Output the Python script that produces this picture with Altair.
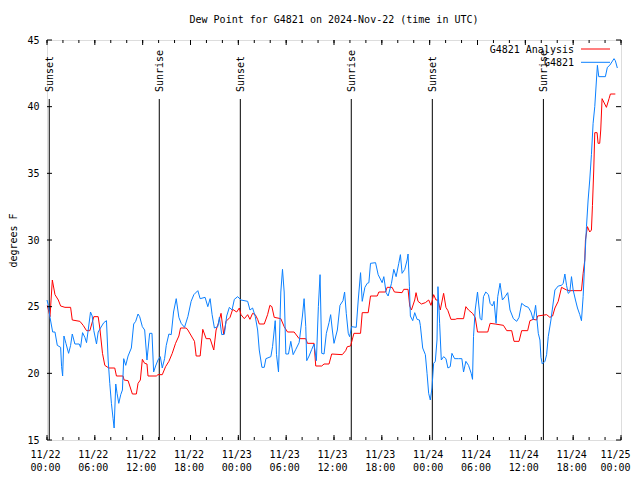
import altair as alt
import pandas as pd

START = pd.Timestamp("2024-11-22T00:00:00")
FONT = "DejaVu Sans Mono"

# G4821 Analysis (red): hours since 2024-11-22 00:00 UTC, dew point degF
red_hours = [0.04, 0.375, 0.67, 1.0, 1.42, 1.71, 2.25, 2.96, 3.17, 4.125, 4.54, 4.96, 5.375, 5.875,
             6.42, 6.625, 6.96, 7.25, 7.75, 8.5, 8.71, 9.54, 9.67, 10.17, 10.71, 11.21, 11.42, 11.71,
             11.96, 12.25, 12.54, 12.67, 13.71, 13.92, 14.46, 14.875, 15.29, 15.71, 16.125, 16.54,
             16.75, 17.46, 17.67, 18.5, 18.71, 19.21, 19.54, 19.96, 20.46, 20.92, 21.21, 21.5, 21.83,
             22.17, 22.46, 22.96, 23.29, 23.79, 24.125, 24.33, 24.75, 25.17, 25.46, 25.79, 26.125,
             26.42, 26.625, 27.25, 27.67, 27.96, 28.21, 28.5, 29.33, 29.75, 30.17, 31.0, 31.625,
             32.46, 32.67, 33.5, 33.71, 34.46, 34.75, 35.375, 35.71, 37.04, 37.46, 37.67, 38.08,
             38.5, 39.33, 39.54, 40.29, 40.58, 41.42, 41.625, 42.46, 42.67, 43.29, 43.58, 44.54,
             44.75, 45.29, 45.5, 45.71, 46.125, 46.29, 46.54, 46.96, 47.46, 47.875, 48.17, 48.5,
             48.79, 49.04, 49.33, 49.75, 50.04, 50.29, 50.67, 51.21, 51.42, 52.25, 52.54, 52.875,
             53.375, 53.71, 54.0, 55.29, 55.58, 56.21, 57.25, 57.67, 58.29, 58.58, 59.21, 59.54,
             60.29, 60.58, 61.0, 61.42, 61.54, 62.67, 63.08, 63.42, 63.71, 64.125, 64.54, 65.17,
             65.58, 67.04, 67.25, 67.46, 67.54, 67.79, 68.08, 68.29, 68.42, 68.58, 68.71, 69.0,
             69.125, 69.33, 69.46, 69.625, 70.17, 70.5, 70.67, 71.29]
red_values = [25.1, 24.25, 27.0, 25.9, 25.5, 25.05, 24.95, 24.95, 24.0, 23.9, 23.6, 23.2, 23.2, 24.25,
              24.25, 23.4, 21.5, 20.6, 20.4, 20.4, 19.8, 19.8, 19.5, 19.45, 18.45, 18.45, 19.25, 19.5,
              21.05, 20.75, 20.7, 19.8, 19.8, 19.9, 19.9, 20.5, 20.9, 21.5, 22.25, 22.8,
              23.4, 23.4, 23.25, 22.4, 21.3, 21.3, 23.3, 22.6, 22.6, 21.75, 23.25, 23.75, 24.5,
              22.9, 23.9, 24.2, 24.8, 24.6, 24.9, 24.4, 24.1, 24.4, 24.05, 24.5, 24.4,
              24.05, 23.7, 23.7, 24.4, 25.1, 25.0, 24.2, 24.1, 23.5, 23.1, 23.1, 22.6,
              22.6, 22.25, 22.25, 20.55, 20.55, 20.7, 20.7, 21.45, 21.4, 21.7, 22.0, 22.05,
              23.0, 23.0, 24.55, 24.55, 25.8, 25.8, 26.1, 26.1, 26.45, 26.45, 26.1, 26.05,
              26.3, 26.3, 25.05, 24.75, 25.5, 26.05, 25.4, 25.2, 25.3, 25.5, 25.1, 25.9,
              25.5, 25.5, 24.75, 26.0, 24.95, 24.7, 24.05, 24.05, 24.1, 24.1, 25.0, 24.75,
              24.5, 24.2, 23.1, 23.1, 23.75, 23.7, 23.6, 23.2, 23.2, 22.4, 22.4, 23.2,
              23.2, 23.95, 24.05, 24.0, 24.3, 24.4, 24.2, 24.3, 24.9, 25.4, 26.45, 26.25,
              26.2, 26.2, 27.5, 28.5, 30.0, 31.0, 30.6, 30.75, 32.6, 35.25, 38.05, 38.05,
              37.25, 37.25, 38.25, 40.6, 39.95, 40.6, 40.95, 40.95]

# G4821 observations (blue)
blue_hours = [0.0, 0.17, 0.375, 0.71, 1.0, 1.29, 1.71, 1.83, 1.96, 2.125, 2.375, 2.71, 2.96, 3.17,
              3.5, 4.04, 4.21, 4.46, 4.75, 4.96, 5.17, 5.46, 5.67, 5.875, 6.21, 6.42, 6.71, 7.125,
              7.46, 7.67, 7.875, 8.08, 8.29, 8.42, 8.625, 8.79, 9.0, 9.25, 9.46, 9.625, 9.875,
              10.17, 10.58, 10.875, 11.125, 11.42, 11.625, 11.96, 12.25, 12.54, 12.875, 13.17,
              13.375, 13.625, 13.92, 14.21, 14.46, 14.75, 14.96, 15.29, 15.58, 15.875, 16.21,
              16.54, 16.83, 17.25, 17.67, 18.08, 18.42, 18.92, 19.21, 19.83, 20.17, 20.46, 20.71,
              21.0, 21.42, 21.625, 21.92, 22.25, 22.54, 22.875, 23.21, 23.5, 23.92, 24.33, 25.17,
              25.46, 25.79, 26.125, 26.42, 26.625, 26.96, 27.25, 27.46, 28.08, 28.29, 28.625,
              28.79, 29.04, 29.33, 29.54, 29.75, 29.96, 30.29, 30.58, 30.875, 31.21, 31.625,
              32.04, 32.25, 32.46, 32.58, 32.875, 33.21, 33.5, 33.79, 34.04, 34.25, 34.46, 34.75,
              35.04, 35.375, 35.58, 35.79, 36.0, 36.42, 36.75, 37.125, 37.33, 37.54, 37.79, 37.96,
              38.21, 38.79, 39.04, 39.33, 39.54, 39.875, 40.17, 40.375, 40.58, 41.21, 41.54,
              42.04, 42.25, 42.54, 42.79, 43.21, 43.5, 43.79, 44.125, 44.33, 44.54, 44.875,
              45.17, 45.29, 45.46, 45.58, 45.875, 46.125, 46.42, 46.71, 46.83, 47.125, 47.46,
              47.67, 47.875, 48.08, 48.29, 48.5, 48.71, 48.92, 49.04, 49.25, 49.46, 49.75, 50.04,
              50.29, 50.58, 50.79, 51.125, 51.625, 52.04, 52.25, 52.54, 52.875, 53.21, 53.375,
              53.5, 53.71, 54.0, 54.33, 54.54, 54.75, 55.04, 55.375, 55.58, 55.875, 56.08, 56.33,
              56.54, 56.83, 57.125, 57.46, 57.79, 58.08, 58.5, 58.92, 59.21, 59.54, 59.96, 60.375,
              60.71, 61.0, 61.29, 61.625, 61.83, 61.96, 62.125, 62.46, 62.67, 62.875, 63.21,
              63.375, 63.71, 64.125, 64.54, 64.75, 64.96, 65.17, 65.375, 65.58, 65.79, 66.0,
              66.29, 66.54, 66.83, 67.04, 67.25, 67.46, 67.67, 67.875, 68.08, 68.29, 68.5, 68.71,
              68.92, 69.04, 69.21, 70.04, 70.29, 70.58, 71.125, 71.29, 71.54]
blue_values = [25.5, 25.1, 24.2, 23.1, 23.1, 22.1, 21.95, 20.5, 19.8, 22.8, 22.25, 21.5, 22.1, 22.95,
               22.2, 22.2, 21.95, 23.05, 22.7, 22.3, 23.25, 24.6, 24.3, 23.2, 22.2, 23.1, 23.4, 23.8,
               23.95, 21.0, 19.25, 17.75, 16.6, 15.9, 19.2, 18.5, 17.75, 18.4, 18.75, 21.1, 20.6,
               21.3, 21.9, 23.7, 23.9, 24.45, 24.25, 23.5, 23.25, 21.0, 23.0, 23.0,
               20.1, 20.55, 21.0, 21.25, 20.4, 21.1, 22.1, 22.95, 22.9, 24.6, 25.6,
               24.2, 23.75, 23.45, 24.25, 25.4, 25.9, 26.2, 25.6, 25.7, 25.0, 25.6, 24.4,
               23.4, 23.5, 24.2, 22.9, 22.95, 24.3, 24.95, 24.75, 25.55, 25.75, 25.5, 25.4,
               24.75, 24.9, 24.25, 23.25, 21.75, 20.45, 20.45, 21.1, 21.25, 22.0, 23.95,
               21.4, 20.1, 26.1, 27.8, 26.1, 21.45, 21.45, 22.4, 21.4, 21.8, 22.3,
               24.3, 25.6, 23.5, 20.95, 21.3, 21.8, 22.2, 20.95, 25.0, 27.4, 21.5, 21.45,
               23.0, 23.8, 24.4, 23.25, 22.25, 23.25, 25.1, 25.45, 26.1, 24.5, 23.0, 22.75,
               23.5, 23.45, 25.5, 27.55, 25.4, 26.45, 26.75, 26.8, 28.25, 28.3, 27.4,
               26.8, 27.25, 26.05, 25.8, 26.75, 27.8, 27.25, 28.25, 28.9, 27.5, 27.8,
               28.5, 28.95, 26.5, 24.3, 23.95, 24.55, 24.05, 24.0, 23.6, 21.9, 21.4,
               20.0, 18.5, 18.0, 18.9, 20.75, 20.9, 22.5, 26.5, 23.75, 21.0, 21.25, 21.1,
               20.4, 20.5, 21.5, 21.1, 21.1, 21.1, 20.1, 20.9, 20.6, 20.0, 19.55,
               22.75, 24.75, 26.1, 24.1, 24.0, 25.75, 26.1, 25.9, 25.25, 25.05, 25.4, 23.75,
               25.75, 26.75, 25.5, 25.75, 26.05, 24.75, 24.1, 23.9, 24.2, 25.25, 25.05, 24.95,
               24.6, 24.0, 25.1, 23.0, 22.5, 21.2, 20.7, 20.9, 21.4, 22.75, 24.0,
               24.75, 26.25, 26.55, 26.6, 26.75, 27.45, 26.6, 26.0, 26.1, 27.25, 26.25,
               25.5, 24.9, 24.4, 23.95, 25.75, 28.5, 31.0, 33.0, 34.5, 36.4, 38.75, 40.0,
               42.0, 43.1, 42.25, 42.25, 42.95, 43.1, 43.6, 43.45, 42.9]

sun_times = ["2024-11-22T00:17:00Z", "2024-11-22T14:05:00Z", "2024-11-23T00:15:00Z",
             "2024-11-23T14:10:00Z", "2024-11-24T00:20:00Z", "2024-11-24T14:16:00Z"]
sun_labels = ["Sunset", "Sunrise", "Sunset", "Sunrise", "Sunset", "Sunrise"]

y_tick_values = [15, 20, 25, 30, 35, 40, 45]
minor_tick_hours = list(range(0, 73, 2))
major_tick_hours = list(range(0, 73, 6))

legend_names = ["G4821 Analysis", "G4821"]
legend_colors = ["#ff0000", "#0a80ff"]


def iso(hours):
    return [(START + pd.Timedelta(hours=h)).strftime("%Y-%m-%dT%H:%M:%SZ") for h in hours]


def dt(h):
    return alt.DateTime(year=2024, month=11, date=22 + h // 24, hours=h % 24, utc=True)


red_df = pd.DataFrame({"t": iso(red_hours), "v": red_values, "i": range(len(red_hours))})
blue_df = pd.DataFrame({"t": iso(blue_hours), "v": blue_values, "i": range(len(blue_hours))})
sun_df = pd.DataFrame({"t": sun_times, "label": sun_labels})
minor_df = pd.DataFrame({"t": iso(minor_tick_hours)})
major_df = pd.DataFrame({"t": iso(major_tick_hours)})
ytick_df = pd.DataFrame({"v": y_tick_values})

xscale = alt.Scale(type="utc", domain=[dt(0), dt(72)])
yscale = alt.Scale(domain=[15, 45], nice=False, zero=False)

x_axis = alt.Axis(
    values=[dt(h) for h in major_tick_hours],
    labelExpr="[utcFormat(datum.value, '%m/%d'), utcFormat(datum.value, '%H:%M')]",
    ticks=False, domain=False, grid=False, labelPadding=9, labelFont=FONT, labelFontSize=10,
    labelColor="black", labelLineHeight=13, labelFlush=False, labelOverlap=False, title=None,
    labelOffset={"condition": {"test": "utcFormat(datum.value, '%d') == '25'", "value": -6},
                 "value": -2},
)
y_axis = alt.Axis(
    values=y_tick_values, ticks=False, domain=False, grid=False, labelPadding=8,
    labelFont=FONT, labelFontSize=10, labelColor="black", title="degrees F",
    titleFont=FONT, titleFontSize=10, titleFontWeight="normal", titleColor="black",
    titlePadding=8,
)


def X():
    return alt.X("t:T", scale=xscale, axis=x_axis)


def Y():
    return alt.Y("v:Q", scale=yscale, axis=y_axis)


sun_rules = alt.Chart(sun_df).mark_rule(color="black", strokeWidth=1).encode(
    x=X(), y=alt.value(59), y2=alt.value(400))
sun_text = alt.Chart(sun_df).mark_text(
    angle=270, align="left", baseline="middle", font=FONT, fontSize=10, color="black", dy=1
).encode(x=X(), y=alt.value(52), text="label:N")

red_line = alt.Chart(red_df).mark_line(color=legend_colors[0], strokeWidth=1).encode(
    x=X(), y=Y(), order="i:Q")
blue_line = alt.Chart(blue_df).mark_line(color=legend_colors[1], strokeWidth=1).encode(
    x=X(), y=Y(), order="i:Q")

minor_bot = alt.Chart(minor_df).mark_rule(color="black").encode(x=X(), y=alt.value(400), y2=alt.value(397))
minor_top = alt.Chart(minor_df).mark_rule(color="black").encode(x=X(), y=alt.value(0), y2=alt.value(3))
major_bot = alt.Chart(major_df).mark_rule(color="black").encode(x=X(), y=alt.value(400), y2=alt.value(395))
major_top = alt.Chart(major_df).mark_rule(color="black").encode(x=X(), y=alt.value(0), y2=alt.value(5))
ytick_l = alt.Chart(ytick_df).mark_rule(color="black").encode(y=Y(), x=alt.value(0), x2=alt.value(5))
ytick_r = alt.Chart(ytick_df).mark_rule(color="black").encode(y=Y(), x=alt.value(569), x2=alt.value(574))

legend_layers = []
for k, (name, col) in enumerate(zip(legend_names, legend_colors)):
    ly = 9.5 + 13.3 * k
    ldf = pd.DataFrame({"name": [name]})
    legend_layers.append(alt.Chart(ldf).mark_text(
        align="right", baseline="middle", font=FONT, fontSize=10, color="black"
    ).encode(x=alt.value(527), y=alt.value(ly), text="name:N"))
    legend_layers.append(alt.Chart(ldf).mark_rule(color=col, strokeWidth=1).encode(
        x=alt.value(534), x2=alt.value(563), y=alt.value(ly - 0.5)))

chart = alt.layer(
    sun_rules, sun_text, red_line, blue_line,
    minor_bot, minor_top, major_bot, major_top, ytick_l, ytick_r,
    *legend_layers,
).properties(
    width=574, height=400,
    title=alt.Title("Dew Point for G4821 on 2024-Nov-22 (time in UTC)", font=FONT, fontSize=10,
                    fontWeight="normal", color="black", anchor="middle", offset=10),
    padding={"left": 39, "top": 32, "right": 11, "bottom": 36},
    autosize="none",
).configure_view(stroke="black", strokeWidth=1).configure(background="white")

chart.save("out.html", embed_options={"renderer": "svg", "actions": False})
